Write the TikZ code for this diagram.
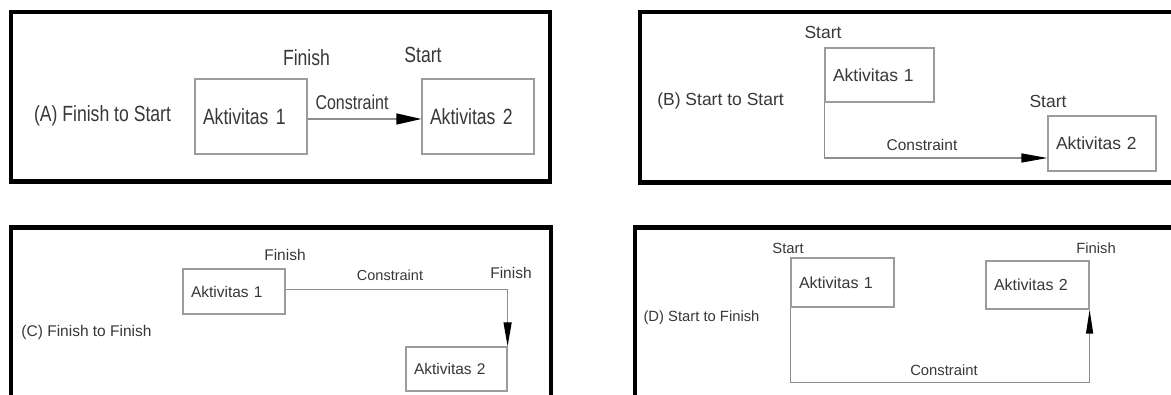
\documentclass[tikz,border=0pt]{standalone}
\usepackage{fontspec}
\setmainfont{Liberation Sans}
\newfontfamily\narrowfont[FakeStretch=0.8]{Liberation Sans}
\usetikzlibrary{arrows.meta}
\definecolor{txt}{HTML}{383838}
\definecolor{boxgray}{HTML}{9C9C9C}
\definecolor{linegray}{HTML}{8E8E8E}
\begin{document}
\begin{tikzpicture}[x=1pt,y=-1pt,
  frame/.style={draw=black,line width=4.5pt},
  box/.style={draw=boxgray,line width=1.2pt,inner xsep=8pt,inner ysep=0pt,align=left,text=txt},
  lbl/.style={text=txt,inner sep=0pt},
  conn/.style={draw=linegray,line width=1.2pt},
  fA/.style={font=\narrowfont\fontsize{22}{24}\selectfont},
  fAc/.style={font=\narrowfont\fontsize{20}{22}\selectfont},
  fB/.style={font=\fontsize{17.5}{20}\selectfont},
  fBc/.style={font=\fontsize{15.5}{18}\selectfont},
  fC/.style={font=\fontsize{15.5}{18}\selectfont},
  fCc/.style={font=\fontsize{14.5}{17}\selectfont},
  fD/.style={font=\fontsize{16}{18}\selectfont},
  fDs/.style={font=\fontsize{14.8}{17}\selectfont},
]
\useasboundingbox (0,0) rectangle (1171,395);
\clip (0,0) rectangle (1171,395);
\fill[white] (0,0) rectangle (1171,395);

% ---------- Panel A ----------
\draw[frame] (10.8,12) rectangle (550,181.5);
\node[lbl,fA] (Alab) at (102.5,116) {(A) Finish to Start};
\node[box,fA,text width=96pt,minimum height=75pt] (A1) at (251,116.5) {Aktivitas 1};
\node[box,fA,text width=96pt,minimum height=75pt] (A2) at (478,116.5) {Aktivitas 2};
\node[lbl,fA] (Afin) at (306.5,57.5) {Finish};
\node[lbl,fA] (Asta) at (423,55) {Start};
\node[lbl,fAc] (Acon) at (352,102) {Constraint};
\draw[conn,-{Triangle[length=25pt,width=11pt,color=black]}] ([yshift=-2.5pt]A1.east) -- ([yshift=-2.5pt]A2.west);

% ---------- Panel B ----------
\draw[frame] (640,12) rectangle (1178,182.5);
\node[lbl,fB] (Blab) at (720.5,101) {(B) Start to Start};
\node[box,fB,text width=93pt,minimum height=54pt] (B1) at (879.5,75) {Aktivitas 1};
\node[box,fB,text width=92pt,minimum height=55pt] (B2) at (1102,143.5) {Aktivitas 2};
\node[lbl,fB] (Bsta1) at (823,32) {Start};
\node[lbl,fB] (Bsta2) at (1048,101.5) {Start};
\node[lbl,fBc] (Bcon) at (922,144.5) {Constraint};
\draw[conn,-{Triangle[length=26pt,width=9pt,color=black]}] (B1.south west) |- ([yshift=-14.5pt]B2.west);

% ---------- Panel C ----------
\draw[frame] (10.8,227.7) rectangle (551,420);
\node[lbl,fC] (Clab) at (86.5,332) {(C) Finish to Finish};
\node[box,fC,text width=86pt,minimum height=45pt] (C1) at (234,291.5) {Aktivitas 1};
\node[box,fC,text width=85pt,minimum height=44pt] (C2) at (456.5,369) {Aktivitas 2};
\node[lbl,fC] (Cfin1) at (285,255) {Finish};
\node[lbl,fC] (Cfin2) at (511,273) {Finish};
\node[lbl,fCc] (Ccon) at (390,275) {Constraint};
\draw[conn,-{Triangle[length=24pt,width=8pt,color=black]}] ([yshift=2pt]C1.east) -| (C2.north east);

% ---------- Panel D ----------
\draw[frame] (635,227.7) rectangle (1178,420);
\node[lbl,fDs] (Dlab) at (701.5,318) {(D) Start to Finish};
\node[box,fD,text width=87pt,minimum height=49pt] (D1) at (842.5,282.5) {Aktivitas 1};
\node[box,fD,text width=87pt,minimum height=48pt] (D2) at (1037.5,285) {Aktivitas 2};
\node[lbl,fDs] (Dsta) at (788,248) {Start};
\node[lbl,fDs] (Dfin) at (1096,248) {Finish};
\node[lbl,fDs] (Dcon) at (944,370) {Constraint};
\draw[conn,-{Triangle[length=24pt,width=7pt,color=black]}] (D1.south west) -- ([yshift=-75pt]D1.south west) -| (D2.south east);
\end{tikzpicture}
\end{document}
